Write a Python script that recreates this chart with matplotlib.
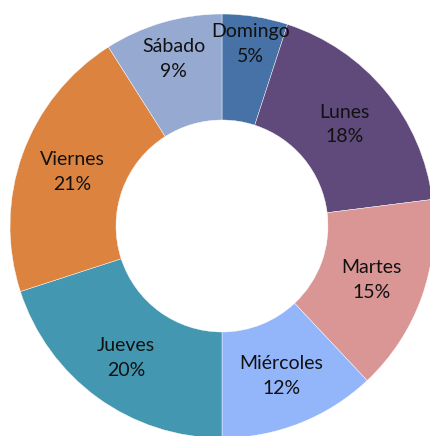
import matplotlib
matplotlib.use("Agg")
import matplotlib.pyplot as plt
import numpy as np

days = ["Domingo", "Lunes", "Martes", "Miércoles", "Jueves", "Viernes", "Sábado"]
values = [5, 18, 15, 12, 20, 21, 9]
colors = ["#4672a8", "#604a7b", "#d99694", "#93b5f9", "#4497b0", "#dc843f", "#95a9d1"]
label_r = [0.87, 0.75, 0.75, 0.76, 0.77, 0.75, 0.82]

fig = plt.figure(figsize=(4.31, 4.36), dpi=100)
W, H = 431, 436
cx, cy, R = 222, 226, 212
ax = fig.add_axes([(cx - R) / W, (H - cy - R) / H, 2 * R / W, 2 * R / H])

wedges, _ = ax.pie(values, colors=colors, startangle=90, counterclock=False,
                   radius=1, wedgeprops=dict(width=0.5, linewidth=0.3, edgecolor="white"))
ax.set_xlim(-1, 1)
ax.set_ylim(-1, 1)
ax.set_aspect("equal")
ax.axis("off")
total = sum(values)
for w, d, v, r in zip(wedges, days, values, label_r):
    ang = np.deg2rad((w.theta1 + w.theta2) / 2)
    x, y = r * np.cos(ang), r * np.sin(ang)
    ax.text(x, y, f"{d}\n{round(100 * v / total)}%", ha="center", va="center",
            fontsize=14, family="Lato", color="#111111", linespacing=1.55)

fig.savefig("out.png", dpi=100)
